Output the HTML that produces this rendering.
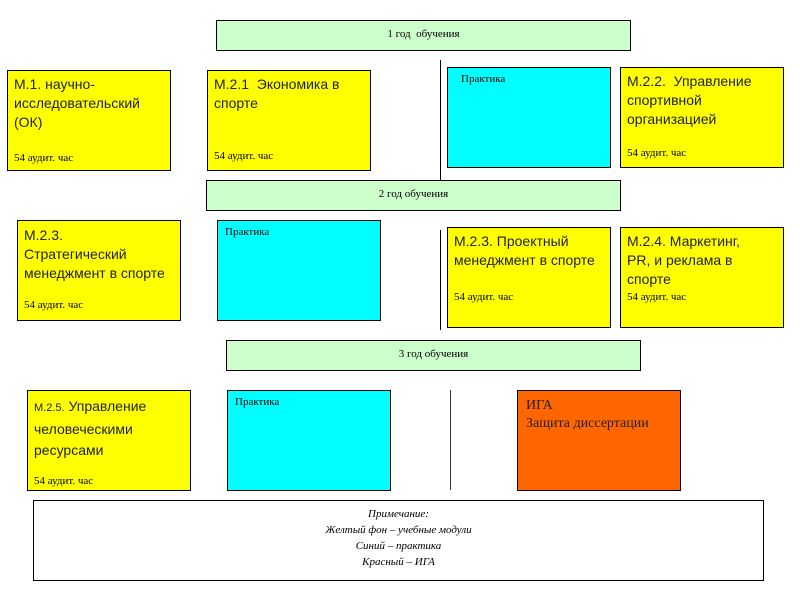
<!DOCTYPE html>
<html><head><meta charset="utf-8"><style>
body{margin:0;width:800px;height:600px;background:#fff;position:relative;overflow:hidden;font-family:"Liberation Sans",sans-serif;}
.b{position:absolute;border:1px solid #000;box-sizing:border-box;}
.y{background:#ffff00;}
.c{background:#00ffff;}
.g{background:#ccffcc;text-align:center;font-family:"Liberation Serif",serif;font-size:11px;}
.t{font-size:14px;line-height:19px;color:#222;}
.s{font-family:"Liberation Serif",serif;font-size:11px;}
.p{font-family:"Liberation Serif",serif;font-size:11px;}
.l{position:absolute;width:1px;background:#000;}
</style></head><body>
<div class="b g" style="left:216px;top:20px;width:415px;height:31px;line-height:27px">1 год &nbsp;обучения</div>
<div class="b y" style="left:7px;top:70px;width:164px;height:101px;padding:4px 6px">
<div class="t">М.1. научно-<br>исследовательский<br>(ОК)</div><div class="s" style="margin-top:20px">54 аудит. час</div></div>
<div class="b y" style="left:207px;top:70px;width:164px;height:101px;padding:4px 6px">
<div class="t">М.2.1 &nbsp;Экономика в<br>спорте</div><div class="s" style="margin-top:37px">54 аудит. час</div></div>
<div class="l" style="left:440px;top:60px;height:120px"></div>
<div class="b c p" style="left:447px;top:67px;width:164px;height:101px;padding:5px 13px">Практика</div>
<div class="b y" style="left:620px;top:67px;width:164px;height:101px;padding:4px 6px">
<div class="t">М.2.2. &nbsp;Управление<br>спортивной<br>организацией</div><div class="s" style="margin-top:18px">54 аудит. час</div></div>
<div class="b g" style="left:206px;top:180px;width:415px;height:31px;line-height:27px">2 год обучения</div>
<div class="b y" style="left:17px;top:220px;width:164px;height:101px;padding:5px 6px">
<div class="t">М.2.3.<br>Стратегический<br>менеджмент в спорте</div><div class="s" style="margin-top:16px">54 аудит. час</div></div>
<div class="b c p" style="left:217px;top:220px;width:164px;height:101px;padding:5px 7px">Практика</div>
<div class="l" style="left:440px;top:230px;height:100px"></div>
<div class="b y" style="left:447px;top:227px;width:164px;height:101px;padding:4px 6px">
<div class="t">М.2.3. Проектный<br>менеджмент в спорте</div><div class="s" style="margin-top:21px">54 аудит. час</div></div>
<div class="b y" style="left:620px;top:227px;width:164px;height:101px;padding:4px 6px">
<div class="t">М.2.4. Маркетинг,<br>PR, и реклама в<br>спорте</div><div class="s" style="margin-top:2px">54 аудит. час</div></div>
<div class="b g" style="left:226px;top:340px;width:415px;height:31px;line-height:27px">3 год обучения</div>
<div class="b y" style="left:27px;top:390px;width:164px;height:101px;padding:5px 6px">
<div class="t" style="line-height:21px"><span style="font-size:11px">М.2.5.</span> Управление<br>человеческими<br>ресурсами</div><div class="s" style="margin-top:14px">54 аудит. час</div></div>
<div class="b c p" style="left:227px;top:390px;width:164px;height:101px;padding:5px 7px">Практика</div>
<div class="l" style="left:450px;top:390px;height:100px;background:#333"></div>
<div class="b" style="left:517px;top:390px;width:164px;height:101px;padding:6px 8px;background:#ff6600;font-family:'Liberation Serif',serif;font-size:14px;line-height:18px;color:#222">ИГА<br>Защита диссертации</div>
<div class="b" style="left:33px;top:500px;width:731px;height:81px;text-align:center;font-family:'Liberation Serif',serif;font-style:italic;font-size:11px;line-height:16px;padding-top:5px">Примечание:<br>Желтый фон – учебные модули<br>Синий – практика<br>Красный – ИГА</div>
</body></html>
